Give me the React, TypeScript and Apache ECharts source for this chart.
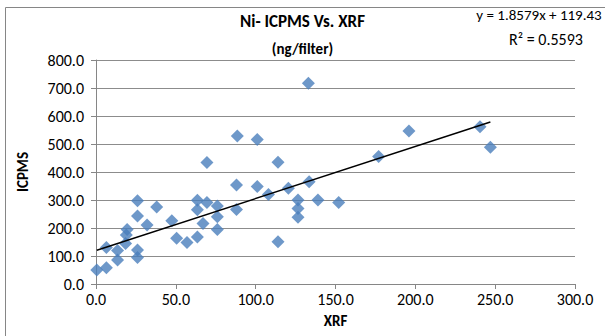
import React, { useEffect, useRef } from "react";
import * as echarts from "echarts";

const xrf = [0.5, 6.5, 6.5, 13.5, 13.5, 18.5, 19, 19.5, 26, 26, 26, 26, 32, 38, 47.5, 50.5, 57, 63.5, 63.5, 63.5, 67, 69.5, 69.5, 76, 76, 76, 88, 88, 88.5, 101, 101, 108, 114, 114, 120.5, 126.5, 126.5, 126.5, 133, 133.5, 139, 152, 177, 196, 240.5, 247];
const icpms = [50, 58, 130, 86, 120, 145, 175, 195, 95, 121, 243, 297, 211, 275, 226, 163, 148, 168, 265, 299, 216, 291, 434, 195, 240, 279, 354, 266, 529, 348, 516, 320, 151, 435, 342, 238, 270, 300, 717, 365, 300, 291, 455, 546, 562, 488];
const slope = 1.8579;
const intercept = 119.43;
const rSquared = 0.5593;
const xTicks = [0, 50, 100, 150, 200, 250, 300];
const yTicks = [0, 100, 200, 300, 400, 500, 600, 700, 800];

const FONT = "Carlito, Lato, sans-serif";

export default function App() {
  const ref = useRef<HTMLDivElement>(null);
  useEffect(() => {
    if (!ref.current) return;
    const chart = echarts.init(ref.current, null, { renderer: "svg" });
    const points = xrf.map((x, i) => [x, icpms[i]]);
    const xMin = Math.min(...xrf);
    const xMax = Math.max(...xrf);
    const trend = [
      [xMin, slope * xMin + intercept],
      [xMax, slope * xMax + intercept],
    ];
    chart.setOption({
      animation: false,
      backgroundColor: "#fff",
      textStyle: { fontFamily: FONT },
      title: [
        {
          text: "Ni- ICPMS Vs. XRF",
          left: "center",
          top: 8,
          textStyle: { fontFamily: FONT, fontSize: 17, fontWeight: "bold", color: "#000" },
        },
        {
          text: "(ng/filter)",
          left: "center",
          top: 36,
          textStyle: { fontFamily: FONT, fontSize: 15, fontWeight: "bold", color: "#000" },
        },
      ],
      graphic: [
        {
          type: "rect",
          shape: { x: 5.5, y: 7.5, width: 700, height: 400 },
          style: { fill: "none", stroke: "#868686", lineWidth: 1 },
          silent: true,
        },
        {
          type: "text",
          x: 539,
          y: 15,
          style: {
            text: `y = ${slope}x + ${intercept}`,
            fontFamily: FONT,
            fontSize: 15,
            fill: "#000",
            align: "center",
            verticalAlign: "middle",
          },
        },
        {
          type: "text",
          x: 546,
          y: 39,
          style: {
            text: `R² = ${rSquared}`,
            fontFamily: FONT,
            fontSize: 16,
            fill: "#000",
            align: "center",
            verticalAlign: "middle",
          },
        },
      ],
      grid: { left: 96, right: 30, top: 60, bottom: 52 },
      xAxis: {
        type: "value",
        min: xTicks[0],
        max: xTicks[xTicks.length - 1],
        interval: 50,
        name: "XRF",
        nameLocation: "middle",
        nameGap: 29,
        nameTextStyle: { fontFamily: FONT, fontSize: 15, fontWeight: "bold", color: "#000" },
        axisLine: { show: true, lineStyle: { color: "#868686", width: 1 } },
        axisTick: { show: true, inside: false, length: 5, lineStyle: { color: "#868686" } },
        axisLabel: {
          margin: 7,
          fontFamily: FONT,
          fontSize: 16,
          color: "#000",
          formatter: (v: number) => v.toFixed(1),
        },
        splitLine: { show: false },
      },
      yAxis: {
        type: "value",
        min: yTicks[0],
        max: yTicks[yTicks.length - 1],
        interval: 100,
        name: "ICPMS",
        nameLocation: "middle",
        nameGap: 66,
        nameRotate: 90,
        nameTextStyle: { fontFamily: FONT, fontSize: 15, fontWeight: "bold", color: "#000" },
        axisLine: { show: true, lineStyle: { color: "#868686", width: 1 } },
        axisTick: { show: true, inside: false, length: 5, lineStyle: { color: "#868686" } },
        axisLabel: {
          margin: 12,
          fontFamily: FONT,
          fontSize: 16,
          color: "#000",
          formatter: (v: number) => v.toFixed(1),
        },
        splitLine: { show: true, lineStyle: { color: "#8c8c8c", width: 1 } },
      },
      series: [
        {
          type: "scatter",
          data: points,
          symbol: "diamond",
          symbolSize: 13,
          itemStyle: { color: "#4a7ebb" },
          z: 2,
        },
        {
          type: "line",
          data: trend,
          symbol: "none",
          lineStyle: { color: "#000", width: 1.5 },
          z: 3,
        },
      ],
    });
    return () => chart.dispose();
  }, []);
  return (
    <div
      ref={ref}
      style={{ position: "absolute", left: 0, top: 0, width: 605, height: 336 }}
    />
  );
}
